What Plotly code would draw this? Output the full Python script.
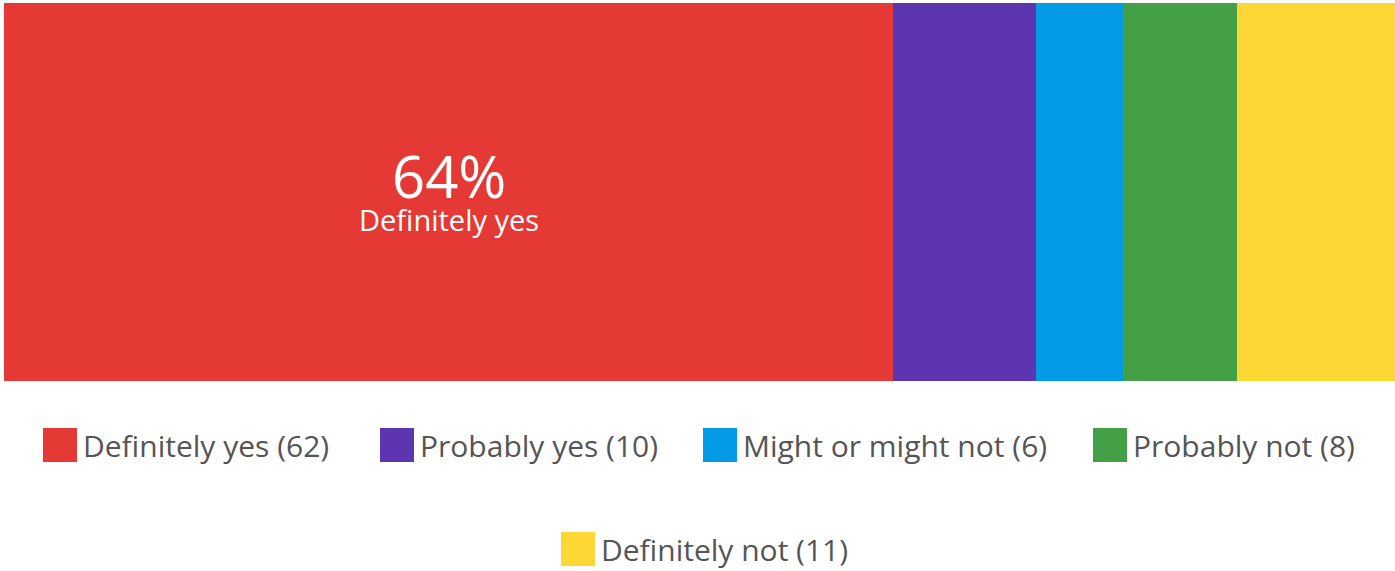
import plotly.graph_objects as go

categories = ["Definitely yes", "Probably yes", "Might or might not", "Probably not", "Definitely not"]
counts = [62, 10, 6, 8, 11]
colors = ["#E53935", "#5E35B1", "#039BE5", "#43A047", "#FDD835"]

W, H = 1395, 571
L, R, T, B = 4, 0, 3, 190
plot_w = W - L - R
plot_h = H - T - B
FONT = "Open Sans, sans-serif"

def px_x(px):
    return (px - L) / plot_w

def px_y(py):
    return (H - B - py) / plot_h

total = sum(counts)
fig = go.Figure()
for cat, val, col in zip(categories, counts, colors):
    fig.add_trace(go.Bar(
        y=["q"], x=[val], orientation="h", name=cat,
        marker=dict(color=col, line=dict(width=0)),
        hoverinfo="name+x", showlegend=False,
    ))

# Label on the largest segment
top_i = counts.index(max(counts))
start = sum(counts[:top_i])
mid = start + counts[top_i] / 2
pct = round(100 * counts[top_i] / total)
fig.add_annotation(x=mid, y=0, xref="x", yref="y", text=f"{pct}%",
                   showarrow=False, yshift=17, borderpad=0,
                   font=dict(family=FONT, size=58, color="white"))
fig.add_annotation(x=mid, y=0, xref="x", yref="y", text=categories[top_i],
                   showarrow=False, yshift=-27, borderpad=0,
                   font=dict(family=FONT, size=29, color="white"))

# Custom legend
legend_pos = [(43, 445), (380, 445), (703, 445), (1093, 445), (561, 549)]
sq = 34
for (lx, ly), cat, val, col in zip(legend_pos, categories, counts, colors):
    fig.add_shape(type="rect", xref="paper", yref="paper",
                  x0=px_x(lx), x1=px_x(lx + sq), y0=px_y(ly - sq / 2), y1=px_y(ly + sq / 2),
                  fillcolor=col, line=dict(width=0), layer="above")
    fig.add_annotation(xref="paper", yref="paper", x=px_x(lx + sq + 4), y=px_y(ly),
                       xanchor="left", yanchor="middle", showarrow=False,
                       text=f"{cat} ({val})",
                       font=dict(family=FONT, size=30, color="#555555"))

fig.update_layout(
    width=W, height=H,
    barmode="stack", bargap=0,
    margin=dict(l=L, r=R, t=T, b=B, pad=0),
    paper_bgcolor="white", plot_bgcolor="white",
    xaxis=dict(range=[0, total], visible=False, fixedrange=True),
    yaxis=dict(range=[-0.5, 0.5], visible=False, fixedrange=True),
    showlegend=False,
)

fig.write_html("out.html", config={"displayModeBar": False},
               post_script="document.body.style.margin='0';")
